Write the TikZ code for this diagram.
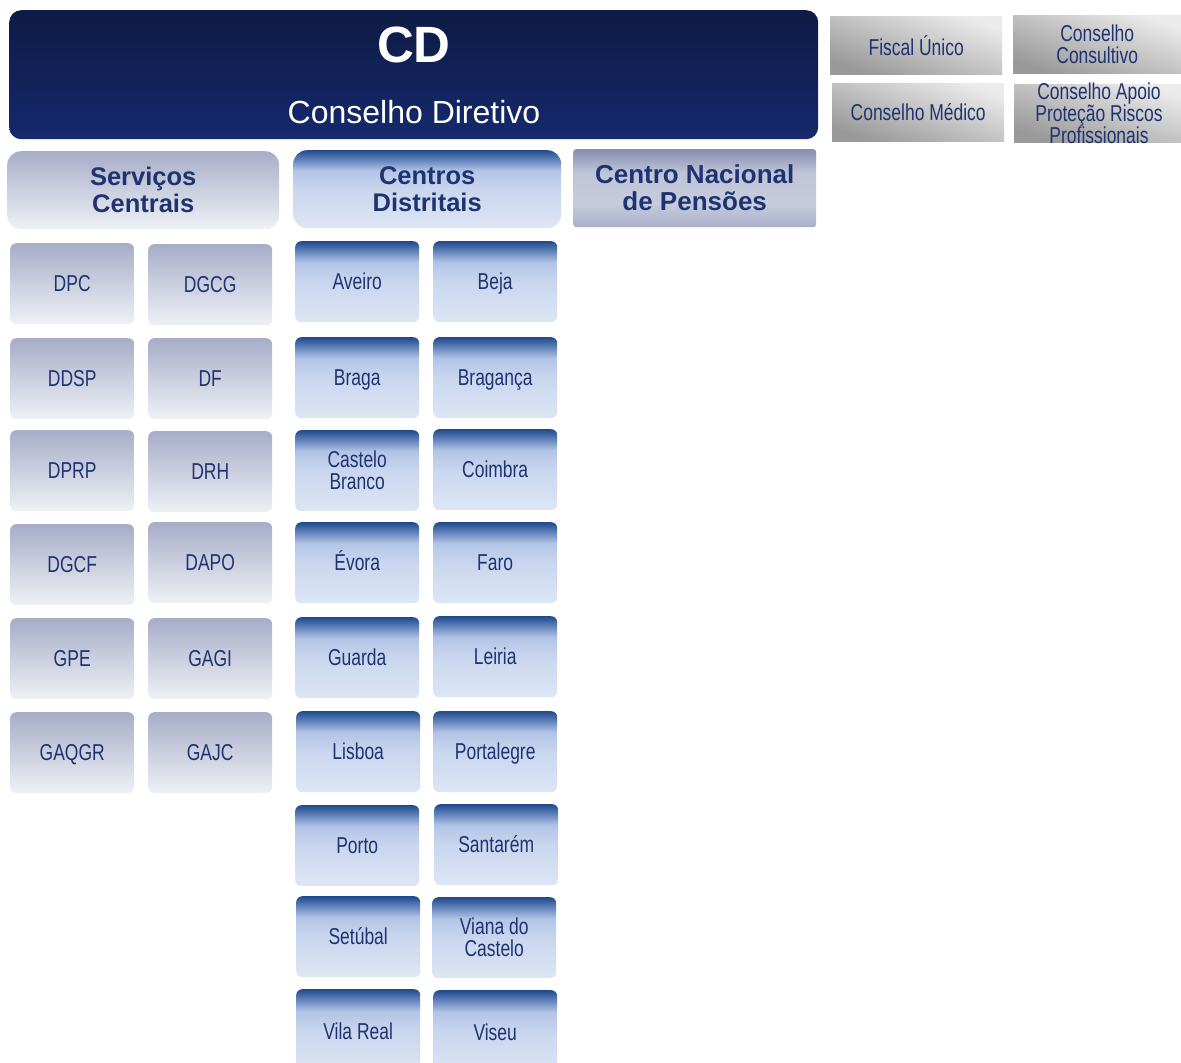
\documentclass[tikz,border=0pt]{standalone}
\usepackage{fontspec}
\setmainfont{Liberation Sans}
\newfontfamily\nar{Liberation Sans}[FakeStretch=0.76]
\definecolor{navy}{HTML}{1F3370}
\definecolor{cdtop}{HTML}{0E1B44}
\definecolor{cdbot}{HTML}{15296C}
\definecolor{bxtop}{HTML}{1E4A8C}
\definecolor{bxa}{HTML}{6D8BC2}
\definecolor{bxb}{HTML}{B2C4E5}
\definecolor{bxmid}{HTML}{C9D6EE}
\definecolor{bxbot}{HTML}{DEE6F5}
\definecolor{sctop}{HTML}{A7ADC8}
\definecolor{scbot}{HTML}{EFF1F6}
\definecolor{cntop}{HTML}{878FB0}
\definecolor{cna}{HTML}{BFC4D8}
\definecolor{cnb}{HTML}{C6CBDD}
\definecolor{cnbot}{HTML}{A9AFC9}
\pgfdeclareverticalshading{bluebox}{100bp}{color(0bp)=(bxbot); color(25bp)=(bxbot); color(50bp)=(bxmid); color(62bp)=(bxb); color(68bp)=(bxa); color(75bp)=(bxtop); color(100bp)=(bxtop)}
\pgfdeclareverticalshading{cnbox}{100bp}{color(0bp)=(cnbot); color(25bp)=(cnbot); color(40bp)=(cnb); color(60bp)=(cna); color(75bp)=(cntop); color(100bp)=(cntop)}
\tikzset{
  base/.style={anchor=north west, inner sep=2pt, align=center, text=navy},
  cdbox/.style={base, rounded corners=12pt, top color=cdtop, bottom color=cdbot},
  hdr/.style={base, rounded corners=14pt, font=\bfseries\fontsize{25.5}{27}\selectfont, minimum height=78pt},
  schdr/.style={hdr, top color=sctop, bottom color=scbot},
  cdhdr/.style={hdr, shading=bluebox},
  cnhdr/.style={hdr, rounded corners=3pt, shading=cnbox, font=\bfseries\fontsize{26}{27}\selectfont},
  small/.style={base, rounded corners=6pt, minimum width=124pt, minimum height=81pt, font=\nar\fontsize{23}{22}\selectfont},
  oneline/.style={text height=16.5pt, text depth=0pt},
  sbox/.style={small, oneline, top color=sctop, bottom color=scbot},
  dbox/.style={small, oneline, shading=bluebox},
  dbox2/.style={small, shading=bluebox},
  gbox/.style={base, shading=axis, top color=black!8, bottom color=black!40, shading angle=-20, minimum height=58pt, font=\nar\fontsize{23}{22}\selectfont},
}
\begin{document}
\begin{tikzpicture}[x=1pt,y=-1pt]
\useasboundingbox (0,0) rectangle (1181,1063);
% CD
\node[cdbox, minimum width=809pt, minimum height=129pt] (cd) at (9,10) {};
\node[text=white, font=\bfseries\fontsize{51}{51}\selectfont] (cdt) at (414,45) {CD};
\node[text=white, font=\fontsize{32}{32}\selectfont] (cdn) at (414,112) {Conselho Diretivo};
% grey boxes
\node[gbox, minimum width=172pt] (fu) at (830,16) {Fiscal Único};
\node[gbox, minimum width=168pt] (cc) at (1013,15) {Conselho\\Consultivo};
\node[gbox, minimum width=172pt] (cm) at (832,83) {Conselho Médico};
\node[gbox, minimum width=167pt] (ca) at (1014,84) {};
\node[text=navy, align=center, font=\nar\fontsize{23}{22}\selectfont] (cat) at (1099,113) {Conselho Apoio\\Proteção Riscos\\Profissionais};
% headers
\node[schdr, minimum width=272pt] (sc) at (7,151) {Serviços\\Centrais};
\node[cdhdr, minimum width=268pt] (cds) at (293,150) {Centros\\Distritais};
\node[cnhdr, minimum width=243pt] (cn) at (573,149) {Centro Nacional\\de Pensões};
% serviços centrais
\node[sbox] (dpc)  at (10,243) {DPC};
\node[sbox] (dgcg) at (148,244) {DGCG};
\node[sbox] (ddsp) at (10,338) {DDSP};
\node[sbox] (df)   at (148,338) {DF};
\node[sbox] (dprp) at (10,430) {DPRP};
\node[sbox] (drh)  at (148,431) {DRH};
\node[sbox] (dgcf) at (10,524) {DGCF};
\node[sbox] (dapo) at (148,522) {DAPO};
\node[sbox] (gpe)  at (10,618) {GPE};
\node[sbox] (gagi) at (148,618) {GAGI};
\node[sbox] (gaqgr) at (10,712) {GAQGR};
\node[sbox] (gajc) at (148,712) {GAJC};
% centros distritais
\node[dbox] (aveiro) at (295,241) {Aveiro};
\node[dbox] (beja) at (433,241) {Beja};
\node[dbox] (braga) at (295,337) {Braga};
\node[dbox] (braganca) at (433,337) {Bragança};
\node[dbox2] (castelo) at (295,430) {Castelo\\Branco};
\node[dbox] (coimbra) at (433,429) {Coimbra};
\node[dbox] (evora) at (295,522) {Évora};
\node[dbox] (faro) at (433,522) {Faro};
\node[dbox] (guarda) at (295,617) {Guarda};
\node[dbox] (leiria) at (433,616) {Leiria};
\node[dbox] (lisboa) at (296,711) {Lisboa};
\node[dbox] (portalegre) at (433,711) {Portalegre};
\node[dbox] (porto) at (295,805) {Porto};
\node[dbox] (santarem) at (434,804) {Santarém};
\node[dbox] (setubal) at (296,896) {Setúbal};
\node[dbox2] (viana) at (432,897) {Viana do\\Castelo};
\node[dbox, minimum height=84pt] (vilareal) at (296,989) {Vila Real};
\node[dbox, minimum height=84pt] (viseu) at (433,990) {Viseu};
\end{tikzpicture}
\end{document}
